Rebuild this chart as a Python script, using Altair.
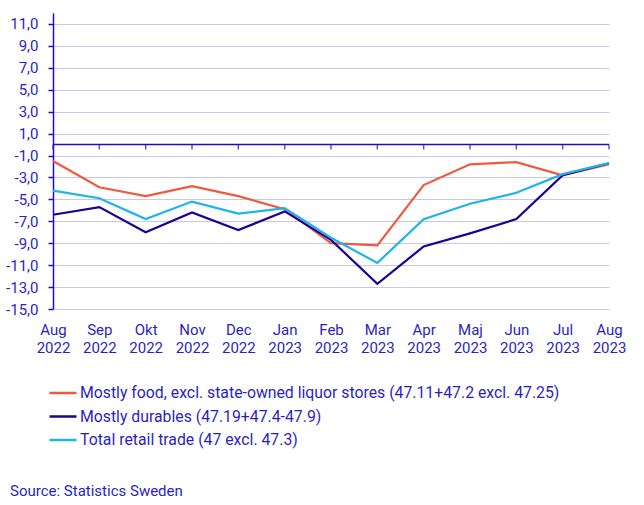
import altair as alt
import pandas as pd

months = ["Aug 2022", "Sep 2022", "Okt 2022", "Nov 2022", "Dec 2022", "Jan 2023",
          "Feb 2023", "Mar 2023", "Apr 2023", "Maj 2023", "Jun 2023", "Jul 2023", "Aug 2023"]
series_names = [
    "Mostly food, excl. state-owned liquor stores (47.11+47.2 excl. 47.25)",
    "Mostly durables (47.19+47.4-47.9)",
    "Total retail trade (47 excl. 47.3)",
]
food = [-1.5, -3.9, -4.7, -3.8, -4.7, -5.9, -9.0, -9.2, -3.7, -1.8, -1.6, -2.8, -1.8]
durables = [-6.4, -5.7, -8.0, -6.2, -7.8, -6.1, -8.7, -12.7, -9.3, -8.1, -6.8, -2.8, -1.7]
total = [-4.2, -4.9, -6.8, -5.2, -6.3, -5.8, -8.5, -10.8, -6.8, -5.4, -4.4, -2.7, -1.7]
y_ticks = [-15, -13, -11, -9, -7, -5, -3, -1, 1, 3, 5, 7, 9, 11]
colors = ["#f0593e", "#1e0096", "#1eb4e6"]

rows = []
for name, vals in zip(series_names, [food, durables, total]):
    for m, v in zip(months, vals):
        rows.append({"month": m, "series": name, "value": v})
df = pd.DataFrame(rows)
mdf = pd.DataFrame({"month": months})

TEXT = "#2b1fc4"
AXIS = "#1f0fc0"
FONT = "Roboto"

x_enc = alt.X(
    "month:O", sort=months,
    scale=alt.Scale(type="point", padding=0),
    axis=alt.Axis(title=None, labelAngle=0, labelExpr="split(datum.label, ' ')",
                  domain=False, ticks=False, grid=False, labelFont=FONT,
                  labelFontSize=15, labelColor=TEXT, labelPadding=13,
                  labelLineHeight=18, labelBaseline="top", labelOverlap=False),
)
y_enc = alt.Y(
    "value:Q",
    scale=alt.Scale(domain=[-15, 12], nice=False, zero=False),
    axis=alt.Axis(values=y_ticks, tickCount=30, title=None, grid=True, gridColor="#c6c6f0", gridWidth=1,
                  labelExpr="(datum.value < 0 ? '-' : '') + replace(format(abs(datum.value), '.1f'), '.', ',')",
                  domainColor=AXIS, domainWidth=1.5, tickColor=AXIS, tickSize=5, tickWidth=1.5,
                  labelFont=FONT, labelFontSize=15, labelColor=TEXT, labelPadding=10,
                  labelOverlap=False, labelSeparation=0),
)

zero = alt.Chart(pd.DataFrame({"value": [0]})).mark_rule(color=AXIS, strokeWidth=1.5).encode(y=y_enc)
ticks = alt.Chart(mdf).mark_tick(orient="vertical", color=AXIS, thickness=1.5, size=5, yOffset=2.5).encode(
    x=x_enc, y=alt.Y(datum=0, type="quantitative")
)
lines = alt.Chart(df).mark_line(strokeWidth=2.2).encode(
    x=x_enc,
    y=y_enc,
    color=alt.Color("series:N", sort=series_names,
                    scale=alt.Scale(domain=series_names, range=colors),
                    legend=alt.Legend(title=None, orient="none", legendX=-5, legendY=372,
                                      direction="vertical", symbolType="stroke", symbolSize=729,
                                      symbolStrokeWidth=2.5, labelFont=FONT, labelFontSize=15.8,
                                      labelColor=TEXT, labelOffset=2, clipHeight=16,
                                      rowPadding=7.5, labelLimit=700, padding=0)),
)

chart = alt.layer(zero, ticks, lines).properties(
    width=556, height=296,
    padding={"left": 53, "top": 13, "right": 35, "bottom": 196},
    autosize=alt.AutoSizeParams(type="none"),
    title=alt.TitleParams("Source: Statistics Sweden", orient="bottom", anchor="start",
                          frame="group", dx=-43, offset=36, fontSize=15, font=FONT,
                          fontWeight="normal", color=TEXT),
).configure_view(stroke=None).configure_axisY(labelOverlap=False)

chart.save("out.html", embed_options={"renderer": "svg", "actions": False})
